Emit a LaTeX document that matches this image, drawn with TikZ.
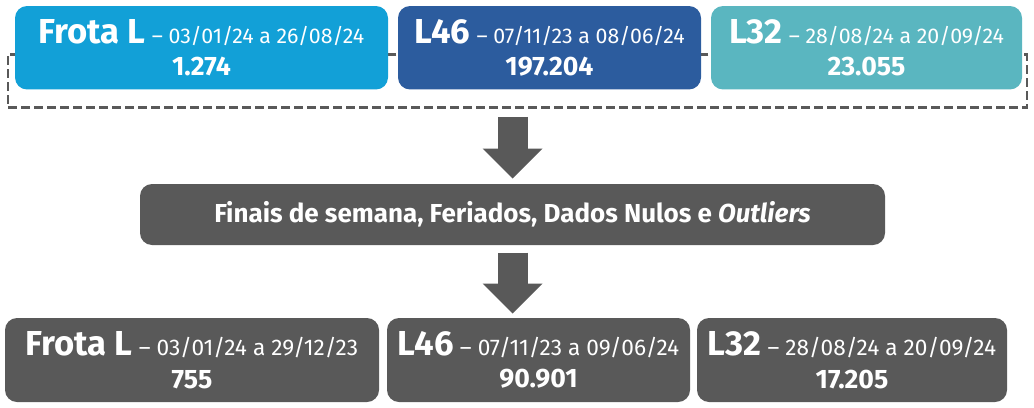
\documentclass[tikz,border=0pt]{standalone}
\usepackage{fontspec}
\setmainfont{Fira Sans}
\usetikzlibrary{arrows.meta}

\definecolor{azulclaro}{RGB}{18,160,215}
\definecolor{azulescuro}{RGB}{44,92,158}
\definecolor{turquesa}{RGB}{90,182,192}
\definecolor{cinza}{RGB}{89,89,89}

\newcommand{\titulo}[1]{{\fontsize{26}{30}\selectfont\bfseries #1}}
\newcommand{\periodo}[1]{{\fontsize{16}{20}\selectfont\mdseries #1}}
\newcommand{\periodob}[1]{{\fontsize{17}{20}\selectfont\mdseries #1}}

\tikzset{every picture/.style={line width=0.75pt},
  caixa/.style={rounded corners=9pt, text=white, align=center, inner sep=0pt,
    font=\fontsize{20}{24.5}\selectfont\bfseries},
  grupo/.style={draw=cinza, line width=1.9pt, dash pattern=on 6.75pt off 3pt, inner sep=0pt},
  seta/.style={draw=cinza, line width=22.5pt,
    -{Triangle[width=45pt,length=22.5pt,line width=0pt]}}}

\begin{document}
\begin{tikzpicture}[x=0.75pt,y=0.75pt,yscale=-1,xscale=1]
    \useasboundingbox (0,0) rectangle (1034,407);

    %Shape: Dashed Rectangle [id:grupo]
    \node[grupo, minimum width=764.25pt, minimum height=40pt] (dados) at (517.5,81) {};

    % Text Node
    \node[caixa, fill=azulclaro, minimum width=279.75pt, minimum height=62.6pt] (frota) at (201.5,47.75)
      {\titulo{Frota L} \periodo{– 03/01/24 a 26/08/24}\\1.274};
    % Text Node
    \node[caixa, fill=azulescuro, minimum width=227.25pt, minimum height=62.6pt] (l46) at (549.5,47.75)
      {\titulo{L46} \periodo{– 07/11/23 a 08/06/24}\\197.204};
    % Text Node
    \node[caixa, fill=turquesa, minimum width=233.25pt, minimum height=62.6pt] (l32) at (866.5,47.75)
      {\titulo{L32} \periodo{– 28/08/24 a 20/09/24}\\23.055};

    % Text Node
    \node[caixa, fill=cinza, minimum width=558.75pt, minimum height=45.75pt,
      font=\fontsize{19.5}{22}\selectfont\bfseries] (filtro) at (512.5,214.5)
      {Finais de semana, Feriados, Dados Nulos e \textit{Outliers}};

    % Text Node
    \node[caixa, fill=cinza, minimum width=280.5pt, minimum height=63pt] (frotab) at (192,360)
      {\titulo{Frota L} \periodob{– 03/01/24 a 29/12/23}\\755};
    % Text Node
    \node[caixa, fill=cinza, minimum width=227.25pt, minimum height=63pt] (l46b) at (538.5,360)
      {\titulo{L46} \periodob{– 07/11/23 a 09/06/24}\\90.901};
    % Text Node
    \node[caixa, fill=cinza, minimum width=232.5pt, minimum height=63pt] (l32b) at (852,360)
      {\titulo{L32} \periodob{– 28/08/24 a 20/09/24}\\17.205};

    %Block Arrows
    \draw[seta] ([yshift=6pt]filtro.north |- dados.south) -- ([yshift=-3.75pt]filtro.north);
    \draw[seta] ([yshift=5.25pt]filtro.south) -- ([yshift=-3pt]filtro.south |- l46b.north);

\end{tikzpicture}
\end{document}
